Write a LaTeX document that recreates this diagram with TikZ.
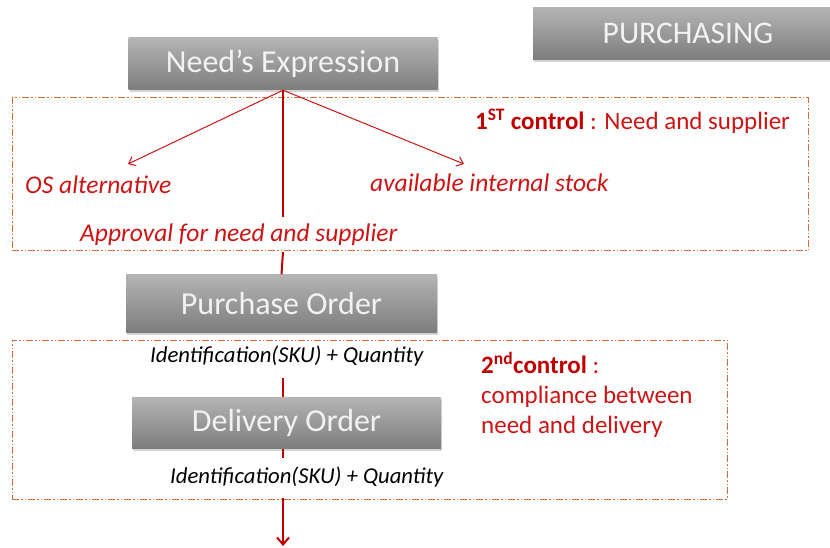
\documentclass[tikz,border=0pt]{standalone}
\usepackage{fontspec}
\setmainfont{Carlito}
\usetikzlibrary{shadows,arrows.meta}
\definecolor{boxtop}{RGB}{180,180,180}
\definecolor{boxbot}{RGB}{125,125,125}
\definecolor{ctrlcol}{RGB}{212,110,55}
\definecolor{darkred}{RGB}{192,0,0}
\definecolor{txtred}{RGB}{204,20,20}
\definecolor{boxtxt}{RGB}{242,242,242}
\tikzset{
  graybox/.style={top color=boxtop, bottom color=boxbot, draw=none,
    drop shadow={shadow xshift=1pt, shadow yshift=-2.5pt, opacity=0.35},
    text=boxtxt, inner sep=0pt, minimum width=309pt, minimum height=52pt,
    font=\fontsize{32}{34}\selectfont},
  ctrlbox/.style={draw=ctrlcol, line width=1pt,
    dash pattern=on 7pt off 2pt on 1.5pt off 2pt on 1.5pt off 2pt, inner sep=0pt},
  mainline/.style={draw=darkred, line width=2pt},
  sidearrow/.style={draw=txtred, line width=1pt, -{Straight Barb[length=6pt,width=10pt]}},
  redital/.style={text=txtred, font=\fontsize{25.5}{27}\selectfont\itshape, anchor=west, inner sep=0pt},
  blackital/.style={text=black, font=\fontsize{22.7}{24}\selectfont\itshape, anchor=west, inner sep=0pt},
  ctrltxt/.style={text=txtred, font=\fontsize{25}{27}\selectfont, anchor=west, inner sep=0pt, align=left},
}
\begin{document}
\begin{tikzpicture}[x=1pt,y=-1pt]
\useasboundingbox (0,0) rectangle (830,548);
% control frames
\node[ctrlbox, minimum width=796pt, minimum height=153pt] (c1) at (410,174.5) {};
\node[ctrlbox, minimum width=715pt, minimum height=159pt] (c2) at (369.5,419.5) {};
% boxes
\node[graybox, minimum width=310pt, font=\fontsize{31.5}{33}\selectfont] (purch) at (688,33.5) {PURCHASING};
\node[graybox] (need) at (283,64) {Need’s Expression};
\node[graybox, minimum width=311pt, minimum height=58pt] (po) at (281.5,303.5) {Purchase Order};
\node[graybox, minimum height=51pt] (do) at (286.5,423) {Delivery Order};
% coordinates
\coordinate (a1) at (283,217);
\coordinate (b0) at (283,252);
\coordinate (c0) at (283,378);
\coordinate (d1) at (283,458);
\coordinate (e0) at (283,498);
\coordinate (e1) at (283,546);
\coordinate (lt) at (128,164);
\coordinate (rt) at (464,164);
% connectors
\draw[mainline] (need.south) -- (a1);
\draw[mainline] (b0) -- (po.north);
\draw[mainline] (c0) -- (c0 |- do.north);
\draw[mainline] (d1 |- do.south) -- (d1);
\draw[mainline, -{Straight Barb[length=7pt,width=12pt]}] (e0) -- (e1);
\draw[sidearrow] (need.south) -- (lt);
\draw[sidearrow] (need.south) -- (rt);
% texts
\node[redital] (os) at (25,185) {OS alternative};
\node[redital] (ais) at (370,183) {available internal stock};
\node[redital] (appr) at (80,235) {Approval for need and supplier};
\node[ctrltxt] (ctl1) at (475,121) {\textcolor{darkred}{\bfseries 1\textsuperscript{ST} control} : Need and supplier};
\node[blackital] (id1) at (150,356) {Identification(SKU) + Quantity};
\node[ctrltxt, anchor=north west] (ctl2) at (481,352) {\textcolor{darkred}{\bfseries 2\textsuperscript{nd}control} :\\[3pt]compliance between\\[3pt]need and delivery};
\node[blackital] (id2) at (170,477) {Identification(SKU) + Quantity};
\end{tikzpicture}
\end{document}
